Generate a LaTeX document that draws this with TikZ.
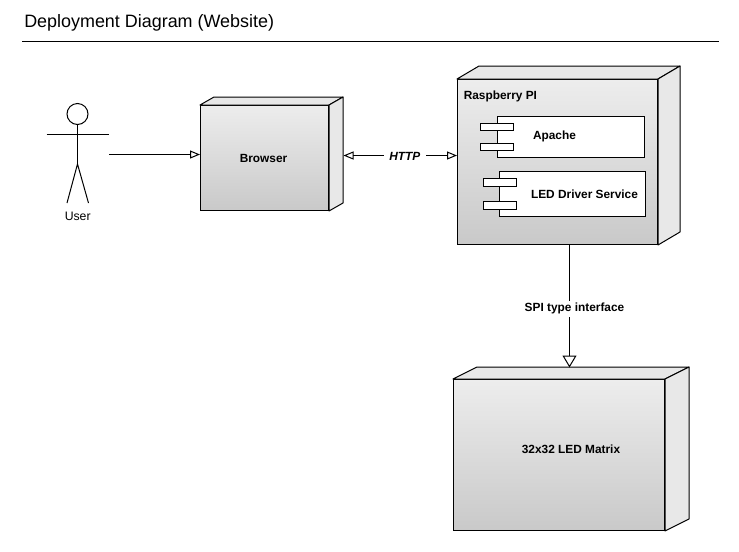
\documentclass[tikz,border=0pt]{standalone}
\usepackage{fontspec}
\setmainfont{Liberation Sans}
\usetikzlibrary{arrows.meta, positioning, calc}

\def\px{0.75pt}
\tikzset{
  nodebox/.style={draw=black, line width=0.75pt, inner sep=0, top color=nodetop, bottom color=nodebot},
  sideface/.style={draw=black, line width=0.75pt, fill=nodeside, line join=round},
  compbox/.style={draw=black, line width=0.75pt, fill=white, inner sep=0},
  lugbox/.style={draw=black, line width=0.75pt, fill=white, inner sep=0, minimum width=33*\px, minimum height=7*\px},
  boldlabel/.style={font=\fontsize{8.9pt}{11pt}\selectfont\bfseries, inner sep=0},
  conn/.style={line width=0.75pt, -{Triangle[open,length=10*\px,width=8*\px,line width=0.75pt]}},
  bothconn/.style={line width=0.75pt, {Triangle[open,length=10*\px,width=8*\px,line width=0.75pt]}-{Triangle[open,length=10*\px,width=8*\px,line width=0.75pt]}}
}
\definecolor{nodetop}{HTML}{EDEDED}
\definecolor{nodebot}{HTML}{C9C9C9}
\definecolor{nodeside}{HTML}{E8E8E8}

% top and right faces of a box, args: node, depth x, depth y
\newcommand{\sidefaces}[3]{
  \draw[sideface] (#1.north west) -- ++(#2,-#3) -| ($(#1.north east)+(#2,-#3)$) -- (#1.north east) -- cycle;
  \draw[sideface] (#1.north east) -- ++(#2,-#3) -- ($(#1.south east)+(#2,-#3)$) -- (#1.south east) -- cycle;
}

\begin{document}
\begin{tikzpicture}[x=0.75pt, y=-0.75pt]
  \useasboundingbox (0,0) rectangle (739,551);

  % title
  \node[anchor=west, inner sep=0, font=\fontsize{13.45pt}{15pt}\selectfont] (title) at (24,23) {Deployment Diagram (Website)};
  \coordinate (ruleleft) at (22,41.5);
  \coordinate (ruleright) at (719,41.5);
  \draw[line width=0.75pt] (ruleleft) -- (ruleright);

  % actor
  \node[draw, circle, line width=0.75pt, inner sep=0, minimum size=21*\px] (head) at (77.5,114) {};
  \coordinate (armleft) at (46.5,134);
  \coordinate (armright) at (108.5,134);
  \coordinate (hip) at (77.5,164);
  \coordinate (footleft) at (67,203);
  \coordinate (footright) at (88.5,203);
  \draw[line width=0.75pt] (head.south) -- (hip);
  \draw[line width=0.75pt] (armleft) -- (armright);
  \draw[line width=0.75pt] (footleft) -- (hip) -- (footright);
  \node[inner sep=0, font=\fontsize{9.2pt}{11pt}\selectfont] (user) at (77.7,216) {User};

  % browser
  \node[nodebox, minimum width=128*\px, minimum height=105*\px] (browser) at (264.5,158) {};
  \sidefaces{browser}{14}{8}
  \node[boldlabel] (browsertext) at (263.5,158) {Browser};

  % raspberry
  \node[nodebox, minimum width=200*\px, minimum height=165*\px] (pi) at (557.5,162) {};
  \sidefaces{pi}{22}{13}
  \node[boldlabel, anchor=west] (pitext) at (463.5,96) {Raspberry PI};

  \node[compbox, minimum width=147*\px, minimum height=41*\px] (apache) at (571,137) {};
  \node[lugbox] (apachelugtop) at (497,127) {};
  \node[lugbox] (apachelugbot) at (497,147) {};
  \node[boldlabel] (apachetext) at (554.5,136.5) {Apache};

  \node[compbox, minimum width=146*\px, minimum height=45*\px] (led) at (572.5,194) {};
  \node[lugbox, minimum height=8*\px] (ledlugtop) at (500,182.5) {};
  \node[lugbox, minimum height=8*\px] (ledlugbot) at (500,205.5) {};
  \node[boldlabel] (ledtext) at (584.5,193.8) {LED Driver Service};

  % matrix
  \node[nodebox, minimum width=211*\px, minimum height=151*\px] (matrix) at (559,455) {};
  \sidefaces{matrix}{24}{12}
  \node[boldlabel] (matrixtext) at (571,449) {32x32 LED Matrix};

  % connectors
  \coordinate (userout) at (109,154.5);
  \coordinate (httpleft) at (343.5,155.5);
  \coordinate (spitop) at (569.5,244);
  \coordinate (spibot) at (569.5,367.5);
  \draw[conn] (userout) -- (userout -| browser.west);
  \draw[bothconn] (httpleft) -- (httpleft -| pi.west) node[pos=0.54, yshift=-1pt, fill=white, inner xsep=4pt, inner ysep=1pt, font=\fontsize{8.9pt}{11pt}\selectfont\bfseries\itshape] (http) {HTTP};
  \draw[line width=0.75pt, -{Triangle[open,length=12*\px,width=14*\px,line width=0.75pt]}] (spitop) -- (spibot) node[pos=0.525, xshift=3.75pt, fill=white, inner xsep=3pt, inner ysep=2pt, font=\fontsize{8.9pt}{11pt}\selectfont\bfseries] (spi) {SPI type interface};
\end{tikzpicture}
\end{document}
